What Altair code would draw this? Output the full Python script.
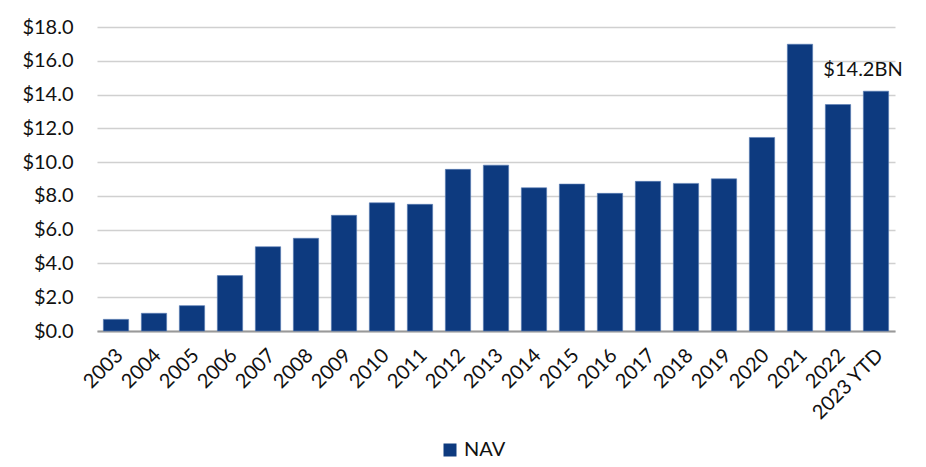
import altair as alt
import pandas as pd

years = ["2003", "2004", "2005", "2006", "2007", "2008", "2009", "2010", "2011",
         "2012", "2013", "2014", "2015", "2016", "2017", "2018", "2019", "2020",
         "2021", "2022", "2023 YTD"]
nav = [0.69, 1.05, 1.50, 3.28, 4.99, 5.49, 6.85, 7.59, 7.50, 9.57, 9.82, 8.48,
       8.70, 8.15, 8.86, 8.74, 9.01, 11.46, 16.98, 13.41, 14.2]
series = ["NAV"] * len(years)
annot_year = ["2023 YTD"]
annot_val = [14.2]
annot_text = ["$14.2BN"]
y_ticks = [0, 2, 4, 6, 8, 10, 12, 14, 16, 18]

df = pd.DataFrame({"year": years, "value": nav, "series": series})
adf = pd.DataFrame({"year": annot_year, "value": annot_val, "label": annot_text})

FONT = "Lato"
BLUE = "#0d3a7f"

x = alt.X("year:N", sort=years, title=None,
          scale=alt.Scale(paddingInner=0.334, paddingOuter=0.167),
          axis=alt.Axis(labelAngle=-45, labelAlign="right", labelBaseline="middle",
                        labelFontSize=20, labelFont=FONT, labelColor="#111",
                        ticks=False, labelPadding=21, labelOffset=4,
                        labelOverlap=False, domainColor="#999",
                        domainWidth=2, grid=False))
y = alt.Y("value:Q", title=None,
          scale=alt.Scale(domain=[0, 18], nice=False),
          axis=alt.Axis(values=y_ticks, tickCount=10,
                        labelExpr="'$' + format(datum.value, '.1f')",
                        labelFontSize=20, labelFont=FONT, labelColor="#111",
                        labelOverlap=False,
                        ticks=False, domain=False, labelPadding=24,
                        gridColor="#d0d0d0", gridWidth=1.5))

bars = alt.Chart(df).mark_bar(stroke="#5b7db5", strokeWidth=0.6).encode(
    x=x, y=y,
    color=alt.Color("series:N", title=None,
                    scale=alt.Scale(range=[BLUE]),
                    legend=alt.Legend(orient="none", legendX=343, legendY=413,
                                      symbolType="square", symbolSize=169,
                                      symbolStrokeWidth=0,
                                      labelFontSize=20, labelFont=FONT,
                                      labelColor="#111", padding=0))
)

text = alt.Chart(adf).mark_text(font=FONT, fontSize=20, color="#111",
                                 align="center", baseline="middle",
                                 dx=-13, dy=-21).encode(
    x=x, y=y,
    text="label:N"
)

chart = alt.layer(bars, text).properties(
    width=798, height=304,
    background="white",
    autosize=alt.AutoSizeParams(type="none"),
    padding={"left": 89, "top": 19, "right": 23, "bottom": 128},
).configure_view(strokeWidth=0, stroke=None)

chart.save("out.html", embed_options={"renderer": "svg", "actions": False})
